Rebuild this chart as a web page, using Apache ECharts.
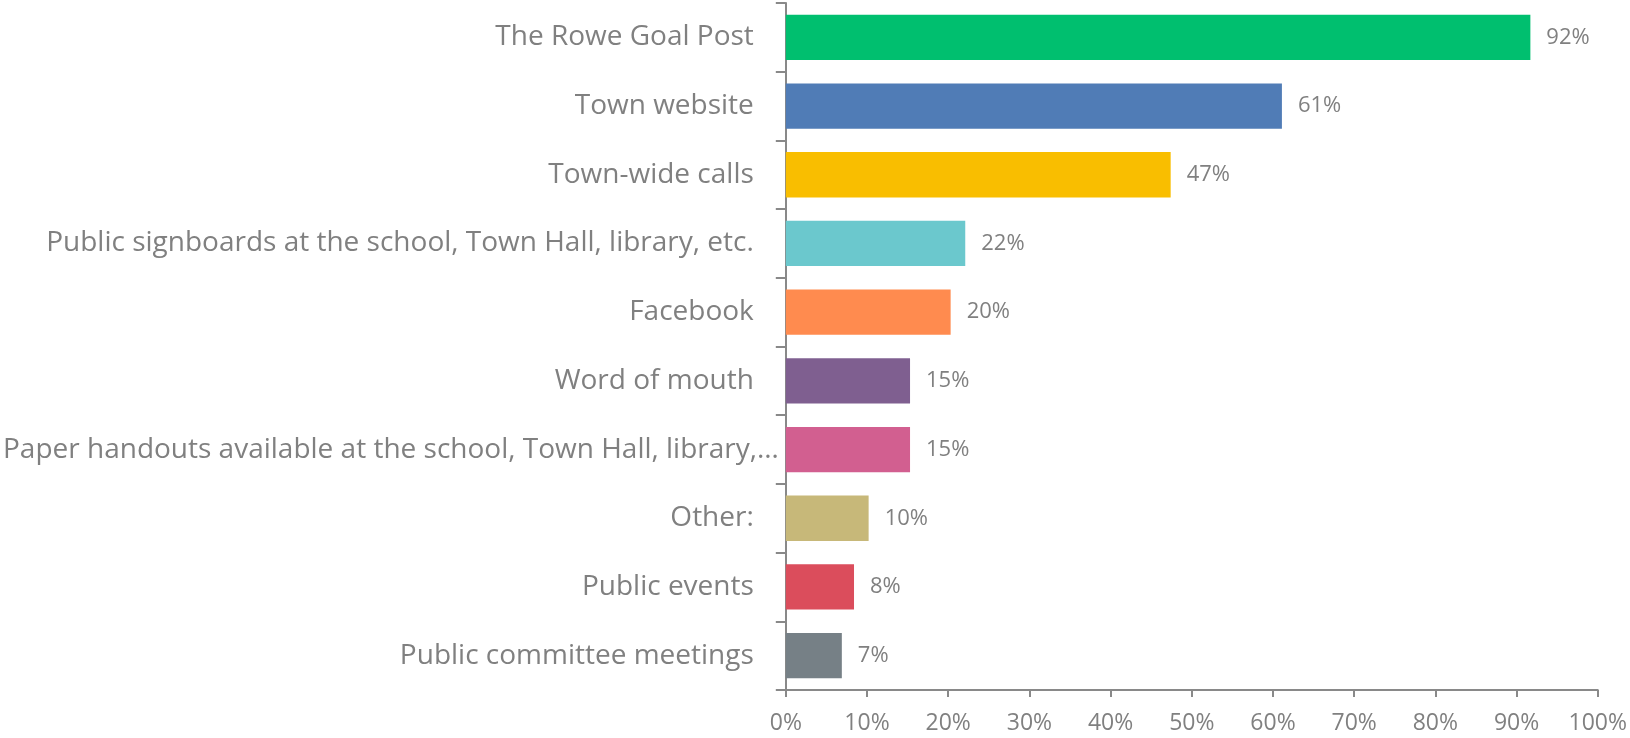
<!DOCTYPE html>
<html>
<head>
<meta charset="utf-8">
<script src="https://cdn.jsdelivr.net/npm/echarts@6/dist/echarts.min.js"></script>
<style>
html,body{margin:0;padding:0;background:#fff;}
#chart{width:1630px;height:738px;}
</style>
</head>
<body>
<div id="chart"></div>
<script>
const categories = [
  "The Rowe Goal Post",
  "Town website",
  "Town-wide calls",
  "Public signboards at the school, Town Hall, library, etc.",
  "Facebook",
  "Word of mouth",
  "Paper handouts available at the school, Town Hall, library,…",
  "Other:",
  "Public events",
  "Public committee meetings"
];
const values = [91.7, 61.1, 47.4, 22.1, 20.3, 15.3, 15.3, 10.2, 8.4, 6.9];
const colors = ["#00BF6F", "#507CB6", "#F9BE00", "#6BC8CD", "#FF8B4F", "#7F5F90", "#D25F90", "#C7B879", "#DB4D5C", "#768086"];
const xTicks = [0, 10, 20, 30, 40, 50, 60, 70, 80, 90, 100];

const chart = echarts.init(document.getElementById('chart'));
const font = '"Open Sans", sans-serif';
const txt = '#808080';
const axisCol = '#898989';
chart.setOption({
  animation: false,
  grid: { left: 785, right: 30, top: 3, bottom: 48, containLabel: false },
  xAxis: {
    type: 'value', min: xTicks[0], max: xTicks[xTicks.length - 1], interval: xTicks[1] - xTicks[0],
    axisLine: { show: true, lineStyle: { color: axisCol, width: 2 } },
    axisTick: { show: true, length: 7, lineStyle: { color: axisCol, width: 2 } },
    splitLine: { show: false },
    axisLabel: { color: txt, fontFamily: font, fontSize: 23, margin: 22, formatter: v => v + '%' }
  },
  yAxis: {
    type: 'category', data: categories, inverse: true,
    axisLine: { show: true, lineStyle: { color: axisCol, width: 2 } },
    axisTick: { show: true, length: 10, lineStyle: { color: axisCol, width: 2 } },
    axisLabel: {
      color: txt, fontFamily: font, fontSize: 28, margin: 7,
      formatter: v => (v.endsWith('…') ? '{b|' + v + '}' : '{a|' + v + '}'),
      rich: {
        a: { color: txt, fontFamily: font, fontSize: 28, padding: [0, 25, 0, 0] },
        b: { color: txt, fontFamily: font, fontSize: 28, padding: [0, 0, 0, 0] }
      }
    }
  },
  series: [{
    type: 'bar',
    data: values.map((v, i) => ({ value: v, itemStyle: { color: colors[i] } })),
    barCategoryGap: '34%',
    label: {
      show: true, position: 'right', distance: 16,
      color: txt, fontFamily: font, fontSize: 22,
      formatter: p => Math.round(p.value) + '%'
    }
  }]
});
</script>
</body>
</html>
